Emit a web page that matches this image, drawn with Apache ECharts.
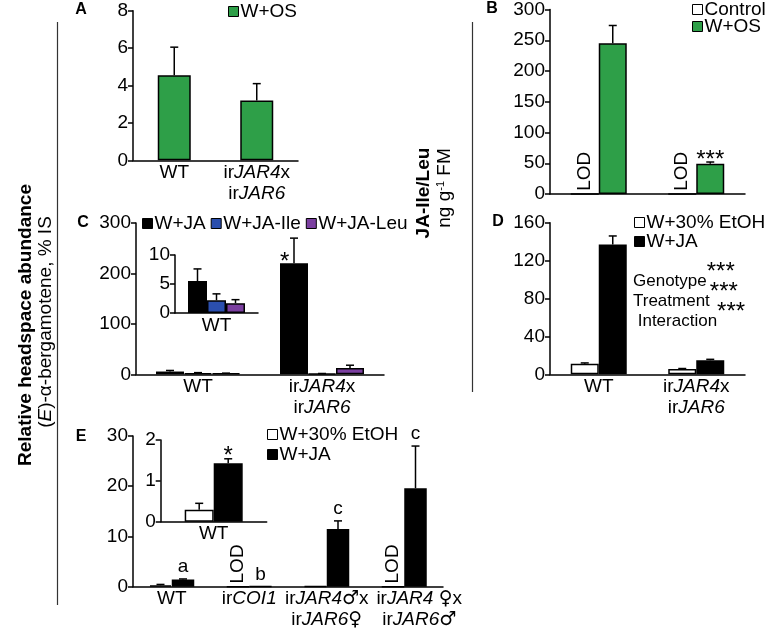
<!DOCTYPE html>
<html>
<head>
<meta charset="utf-8">
<script src="https://cdn.jsdelivr.net/npm/echarts@6/dist/echarts.min.js"></script>
<style>html,body{margin:0;padding:0;background:#fff}#c{width:767px;height:633px}</style>
</head>
<body>
<div id="c"></div>
<script>
// ---------- data ----------
const aCategories = ['WT', 'irJAR4x\nirJAR6'];
const aWOS = [4.55, 3.2];
const aWOSErr = [1.5, 0.9];

const bCategories = ['WT', 'irJAR4x\nirJAR6'];
const bControl = [0, 0];
const bControlNotes = ['LOD', 'LOD'];
const bWOS = [245, 49];
const bWOSErr = [29, 3];
const bWOSNotes = ['', '***'];

const cCategories = ['WT', 'irJAR4x\nirJAR6'];
const cInsetCategories = ['WT'];
const cJA = [5.5, 220];
const cJAErr = [2.1, 50];
const cJANotes = ['', '*'];
const cIle = [2.2, 1.2];
const cIleErr = [1.1, 0.4];
const cLeu = [1.7, 12.5];
const cLeuErr = [0.6, 5.5];

const dCategories = ['WT', 'irJAR4x\nirJAR6'];
const dEtOH = [11.2, 5.6];
const dEtOHErr = [0.8, 0.5];
const dJA = [137, 14.8];
const dJAErr = [9, 1];
const dStats = ['Genotype', 'Treatment', ' Interaction'];
const dStatsSig = ['***', '***', '***'];

const eCategories = ['WT', 'irCOI1', 'irJAR4\u2642x\nirJAR6\u2640', 'irJAR4 \u2640x\nirJAR6\u2642'];
const eInsetCategories = ['WT'];
const eEtOH = [0.29, 0, 0.1, 0];
const eEtOHErr = [0.16, 0, 0, 0];
const eEtOHNotes = ['', 'LOD', '', 'LOD'];
const eJA = [1.43, 0.06, 11.5, 19.6];
const eJAErr = [0.11, 0, 1.6, 8.4];
const eJANotes = ['a', 'b', 'c', 'c'];
const eInsetJANotes = ['*'];

// ---------- styling helpers ----------
const FONT = "'Liberation Sans', 'DejaVu Sans', Arial, sans-serif";
const FS = 19;
const GREEN = '#2e9f48', BLUE = '#2b4fae', PURPLE = '#7b3fa0';
const styleLabel = s => s.replace(/(JAR\d|COI1)/g, '{i|$1}').replace(/([\u2640\u2642])/g, '{g|$1}');

function yAx(g, max, interval) {
  return {
    type: 'value', gridIndex: g, min: 0, max: max, interval: interval,
    axisLine: { show: true, lineStyle: { color: '#000', width: 1.5 } },
    axisTick: { show: true, length: 5, lineStyle: { color: '#000', width: 1.5 } },
    axisLabel: { color: '#000', fontSize: FS, fontFamily: FONT, margin: 5 },
    splitLine: { show: false }
  };
}
function xAx(g, cats, show, shiftLast) {
  return {
    type: 'category', gridIndex: g, data: cats,
    axisLine: { show: true, onZero: false, lineStyle: { color: '#000', width: 1.5 } },
    axisTick: { show: false },
    axisLabel: {
      show: show !== false, interval: 0, color: '#000', fontSize: FS, fontFamily: FONT,
      lineHeight: 21, margin: 2,
      formatter: (v, idx) => {
        let s = styleLabel(v);
        if (shiftLast && idx === cats.length - 1) s = s.split('\n').map(l => '{sp| }' + l).join('\n');
        return s;
      },
      rich: {
        i: { fontStyle: 'italic', fontSize: FS, fontFamily: FONT, color: '#000', lineHeight: 21 },
        g: { fontSize: 19, fontFamily: "'DejaVu Sans', sans-serif", color: '#000', lineHeight: 21 },
        sp: { width: 30, fontSize: FS, lineHeight: 21 }
      }
    }
  };
}
function bar(name, g, data, color, barW, label) {
  const s = {
    type: 'bar', name: name, xAxisIndex: g, yAxisIndex: g, data: data, barWidth: barW, barGap: 0,
    itemStyle: { color: color, borderColor: '#000', borderWidth: 1.5 },
    emphasis: { disabled: true }, z: 2
  };
  if (label) s.label = label;
  return s;
}
function lodLabel(notes) {
  return {
    show: true, formatter: p => notes[p.dataIndex] || '', position: 'insideBottom',
    rotate: 90, align: 'left', verticalAlign: 'middle', distance: 4,
    fontSize: FS, fontFamily: FONT, color: '#000'
  };
}
function errorSeries(g, values, errors, notes, idx, count, barW) {
  return {
    type: 'custom', xAxisIndex: g, yAxisIndex: g, silent: true, z: 3, clip: false,
    data: values.map((v, i) => [i, v, errors[i]]),
    renderItem: function (params, api) {
      const i = api.value(0), v = api.value(1), e = api.value(2);
      const base = api.coord([i, v]);
      const top = api.coord([i, v + e]);
      const cx = base[0] + (idx - (count - 1) / 2) * barW;
      const ch = [];
      if (e > 0) {
        ch.push({ type: 'line', shape: { x1: cx, y1: base[1], x2: cx, y2: top[1] }, style: { stroke: '#000', lineWidth: 1.5 } });
        ch.push({ type: 'line', shape: { x1: cx - 4, y1: top[1], x2: cx + 4, y2: top[1] }, style: { stroke: '#000', lineWidth: 1.5 } });
      }
      const note = notes ? notes[params.dataIndex] : '';
      if (note) {
        const star = /^\*+$/.test(note);
        ch.push({
          type: 'text', x: cx, y: top[1] - (star ? 2 : 12),
          style: { text: note, fontSize: star ? 24 : FS, fontFamily: FONT, fill: '#000',
                   align: 'center', verticalAlign: 'middle', textAlign: 'center', textVerticalAlign: 'middle' }
        });
      }
      return { type: 'group', children: ch };
    }
  };
}
function legend(names, left, top, orient, gap) {
  return {
    data: names, left: left, top: top, orient: orient || 'horizontal', itemGap: gap,
    icon: 'rect', itemWidth: 10, itemHeight: 10, padding: 0, selectedMode: false,
    itemStyle: { borderColor: '#000', borderWidth: 1 },
    textStyle: { fontSize: FS, fontFamily: FONT, color: '#000', padding: [0, 0, 0, -3] }
  };
}

// ---------- layout ----------
const grids = [
  { left: 133, top: 10.7, width: 165, height: 149.6 },   // A
  { left: 550, top: 9, width: 195, height: 185 },         // B
  { left: 136, top: 223, width: 248, height: 151.3 },     // C
  { left: 175, top: 255, width: 83, height: 58 },         // C inset
  { left: 550, top: 222.7, width: 195, height: 151.6 },   // D
  { left: 133, top: 436, width: 310, height: 150.7 },     // E
  { left: 160.7, top: 440, width: 106, height: 81.7 }     // E inset
];

const series = [
  // A
  bar('W+OS', 0, aWOS, GREEN, 33),
  errorSeries(0, aWOS, aWOSErr, null, 0, 1, 33),
  // B
  bar('Control', 1, bControl, '#fff', 28, lodLabel(bControlNotes)),
  bar('W+OS', 1, bWOS, GREEN, 28),
  errorSeries(1, bWOS, bWOSErr, bWOSNotes, 1, 2, 28),
  // C
  bar('W+JA', 2, cJA, '#000', 28, {
    show: true, formatter: p => cJANotes[p.dataIndex] || '', position: [0, -1],
    align: 'left', verticalAlign: 'middle', fontSize: 24, fontFamily: FONT, color: '#000'
  }),
  bar('W+JA-Ile', 2, cIle, BLUE, 28),
  bar('W+JA-Leu', 2, cLeu, PURPLE, 28),
  errorSeries(2, cJA, cJAErr, null, 0, 3, 28),
  errorSeries(2, cIle, cIleErr, null, 1, 3, 28),
  errorSeries(2, cLeu, cLeuErr, null, 2, 3, 28),
  // C inset (WT only)
  bar('W+JA', 3, cJA.slice(0, 1), '#000', 19),
  bar('W+JA-Ile', 3, cIle.slice(0, 1), BLUE, 19),
  bar('W+JA-Leu', 3, cLeu.slice(0, 1), PURPLE, 19),
  errorSeries(3, cJA.slice(0, 1), cJAErr.slice(0, 1), null, 0, 3, 19),
  errorSeries(3, cIle.slice(0, 1), cIleErr.slice(0, 1), null, 1, 3, 19),
  errorSeries(3, cLeu.slice(0, 1), cLeuErr.slice(0, 1), null, 2, 3, 19),
  // D
  bar('W+30% EtOH', 4, dEtOH, '#fff', 28),
  bar('W+JA', 4, dJA, '#000', 28),
  errorSeries(4, dEtOH, dEtOHErr, null, 0, 2, 28),
  errorSeries(4, dJA, dJAErr, null, 1, 2, 28),
  // E
  bar('W+30% EtOH', 5, eEtOH, '#fff', 22.5, lodLabel(eEtOHNotes)),
  bar('W+JA', 5, eJA, '#000', 22.5),
  errorSeries(5, eEtOH, eEtOHErr, null, 0, 2, 22.5),
  errorSeries(5, eJA, eJAErr, eJANotes, 1, 2, 22.5),
  // E inset (WT only)
  bar('W+30% EtOH', 6, eEtOH.slice(0, 1), '#fff', 29),
  bar('W+JA', 6, eJA.slice(0, 1), '#000', 29),
  errorSeries(6, eEtOH.slice(0, 1), eEtOHErr.slice(0, 1), null, 0, 2, 29),
  errorSeries(6, eJA.slice(0, 1), eJAErr.slice(0, 1), eInsetJANotes, 1, 2, 29)
];

function txt(x, y, text, opts) {
  return Object.assign({
    type: 'text', x: x, y: y, silent: true,
    style: Object.assign({
      text: text, fontSize: FS, fontFamily: FONT, fill: '#000',
      align: 'center', verticalAlign: 'middle', textAlign: 'center', textVerticalAlign: 'middle'
    }, opts.style || {})
  }, opts.el || {});
}

const graphic = [
  { type: 'line', silent: true, shape: { x1: 57.5, y1: 22, x2: 57.5, y2: 605 }, style: { stroke: '#333', lineWidth: 1.2 } },
  { type: 'line', silent: true, shape: { x1: 472.5, y1: 22, x2: 472.5, y2: 392 }, style: { stroke: '#333', lineWidth: 1.2 } },
  txt(81, 10, 'A', { style: { fontSize: 16, fontWeight: 'bold' } }),
  txt(492, 9, 'B', { style: { fontSize: 16, fontWeight: 'bold' } }),
  txt(83, 223, 'C', { style: { fontSize: 16, fontWeight: 'bold' } }),
  txt(498, 222, 'D', { style: { fontSize: 16, fontWeight: 'bold' } }),
  txt(81, 437, 'E', { style: { fontSize: 16, fontWeight: 'bold' } }),
  txt(26, 325, 'Relative headspace abundance', { style: { fontWeight: 'bold' }, el: { rotation: Math.PI / 2 } }),
  txt(46, 322, '({i|E})-\u03b1-bergamotene, % IS', {
    style: { rich: { i: { fontStyle: 'italic', fontSize: FS, fontFamily: FONT } } }, el: { rotation: Math.PI / 2 }
  }),
  txt(424, 193, 'JA-Ile/Leu', { style: { fontWeight: 'bold' }, el: { rotation: Math.PI / 2 } }),
  txt(445, 188, '{n|ng g}{s|-1}{n| FM}', {
    style: { rich: {
      n: { fontSize: FS, fontFamily: FONT, verticalAlign: 'bottom' },
      s: { fontSize: 11, fontFamily: FONT, verticalAlign: 'top' }
    } }, el: { rotation: Math.PI / 2 }
  })
];
dStats.forEach((s, k) => {
  graphic.push({
    type: 'text', x: 633, y: 275 + k * 20, silent: true,
    style: {
      text: '{t|' + s + '}{s|' + dStatsSig[k] + '}',
      align: 'left', verticalAlign: 'middle', textAlign: 'left', textVerticalAlign: 'middle',
      rich: {
        t: { fontSize: 17, fontFamily: FONT, color: '#000', padding: [12, 0, 0, 0], verticalAlign: 'bottom' },
        s: { fontSize: 24, fontFamily: FONT, color: '#000', verticalAlign: 'top' }
      }
    }
  });
});

const option = {
  animation: false,
  textStyle: { fontFamily: FONT },
  grid: grids,
  xAxis: [
    xAx(0, aCategories), xAx(1, bCategories, false), xAx(2, cCategories), xAx(3, cInsetCategories),
    xAx(4, dCategories), xAx(5, eCategories, true, true), xAx(6, eInsetCategories)
  ],
  yAxis: [
    yAx(0, 8, 2), yAx(1, 300, 50), yAx(2, 300, 100), yAx(3, 10, 5),
    yAx(4, 160, 40), yAx(5, 30, 10), yAx(6, 2, 1)
  ],
  legend: [
    legend(['W+OS'], 228, 2, 'horizontal', 8),
    legend(['Control', 'W+OS'], 692, 0, 'vertical', -2),
    legend(['W+JA', 'W+JA-Ile', 'W+JA-Leu'], 142, 214, 'horizontal', 5),
    legend(['W+30% EtOH', 'W+JA'], 634, 213, 'vertical', 0),
    legend(['W+30% EtOH', 'W+JA'], 267, 425, 'vertical', 1)
  ],
  graphic: graphic,
  series: series
};

const chart = echarts.init(document.getElementById('c'), null, { renderer: 'canvas' });
chart.setOption(option);
</script>
</body>
</html>
